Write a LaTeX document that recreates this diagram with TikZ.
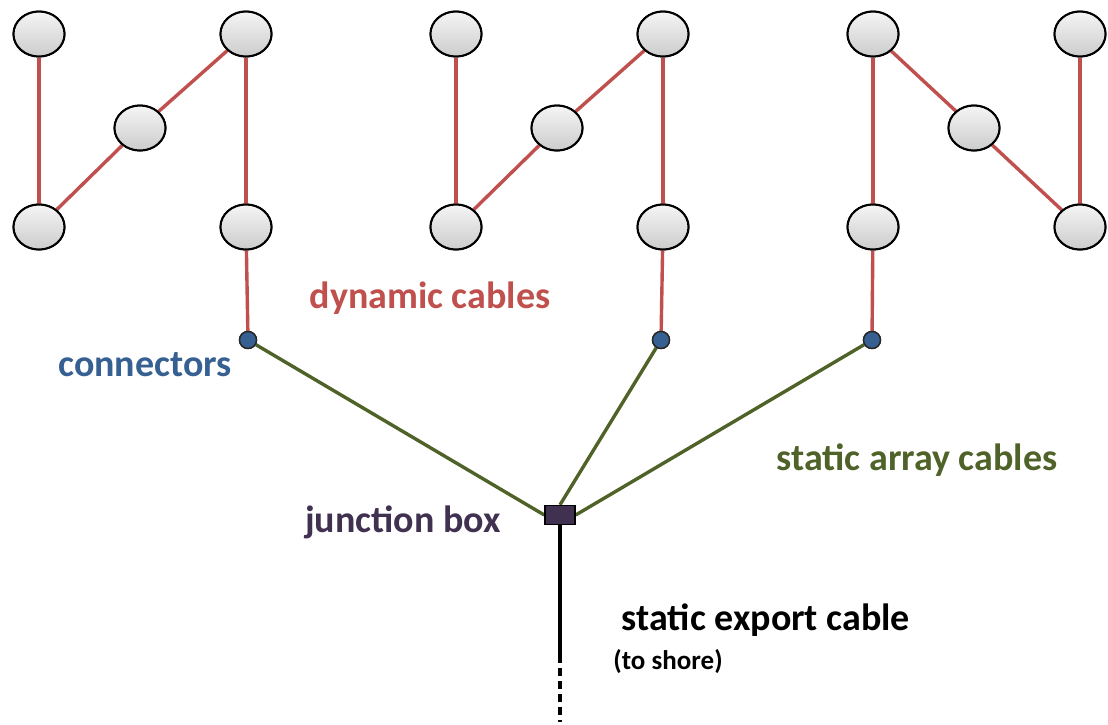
\documentclass[tikz,border=0pt]{standalone}
\usepackage{fontspec}
\setmainfont{Carlito}
\usetikzlibrary{shapes.geometric}
\definecolor{cabred}{RGB}{192,80,77}
\definecolor{conblue}{RGB}{54,96,146}
\definecolor{confill}{RGB}{55,96,146}
\definecolor{arraygreen}{RGB}{79,98,40}
\definecolor{boxpurple}{RGB}{64,49,81}
\definecolor{boxtext}{RGB}{64,49,81}
\tikzset{
  turbine/.style={ellipse, draw=black, line width=2pt, minimum width=51pt, minimum height=45pt,
    inner sep=0pt, top color=gray!8, bottom color=gray!40},
  dyn/.style={draw=cabred, line width=3.4pt},
  arr/.style={draw=arraygreen, line width=3.4pt},
  conn/.style={circle, draw=black!85, line width=1.4pt, fill=confill, minimum size=17pt, inner sep=0pt},
  jbox/.style={rectangle, draw=black, line width=1.4pt, fill=boxpurple, minimum width=30pt, minimum height=19pt, inner sep=0pt},
  lbl/.style={font=\fontsize{38}{44}\selectfont\bfseries, inner sep=0pt}
}
\begin{document}
\begin{tikzpicture}[x=1pt,y=-1pt]
\useasboundingbox (0,0) rectangle (1108,724);
% turbine groups
\foreach \g/\dx in {a/0, b/417, c/834}{
  \node[turbine] (\g1) at (39+\dx,34) {};
  \node[turbine] (\g2) at (246+\dx,34) {};
  \node[turbine] (\g3) at (140+\dx,128) {};
  \node[turbine] (\g4) at (39+\dx,227) {};
  \node[turbine] (\g5) at (246+\dx,227) {};
}
% connectors and junction box
\node[conn] (k1) at (248,340) {};
\node[conn] (k2) at (661,340) {};
\node[conn] (k3) at (872,340) {};
\node[jbox] (jb) at (560,515) {};
\coordinate (sx) at (560,655);
\coordinate (se) at (560,722);
% dynamic cables
\draw[dyn] (a1) -- (a4);
\draw[dyn] (a4) -- (a3);
\draw[dyn] (a3) -- (a2);
\draw[dyn] (a2) -- (a5);
\draw[dyn] (a5) -- (k1);
\draw[dyn] (b1) -- (b4);
\draw[dyn] (b4) -- (b3);
\draw[dyn] (b3) -- (b2);
\draw[dyn] (b2) -- (b5);
\draw[dyn] (b5) -- (k2);
\draw[dyn] (c1) -- (c4);
\draw[dyn] (c1) -- (c3);
\draw[dyn] (c3) -- (c5);
\draw[dyn] (c2) -- (c5);
\draw[dyn] (c4) -- (k3);
% static array cables
\draw[arr] (k1) -- (jb.west);
\draw[arr] (k2) -- (jb.north);
\draw[arr] (k3) -- (jb.east);
% export cable
\draw[line width=3.2pt] (jb.south) -- (sx);
\draw[line width=3.2pt, dash pattern=on 8pt off 5pt] (sx) -- (se);
% redraw nodes over cables
\foreach \g in {a,b,c}{\foreach \i in {1,...,5}{\node[turbine] at (\g\i) {};}}
\node[conn] at (k1) {};
\node[conn] at (k2) {};
\node[conn] at (k3) {};
\node[jbox] at (jb) {};
% labels
\node[lbl, text=cabred] (tdyn) at (430,298) {dynamic cables};
\node[lbl, text=conblue] (tcon) at (145,365) {connectors};
\node[lbl, text=arraygreen] (tarr) at (917,460) {static array cables};
\node[lbl, text=boxtext] (tjb) at (403,522) {junction box};
\node[lbl, text=black] (texp) at (766,620) {static export cable};
\node[font=\fontsize{27}{30}\selectfont\bfseries, inner sep=0pt] (tshore) at (668,662) {(to shore)};
\end{tikzpicture}
\end{document}
